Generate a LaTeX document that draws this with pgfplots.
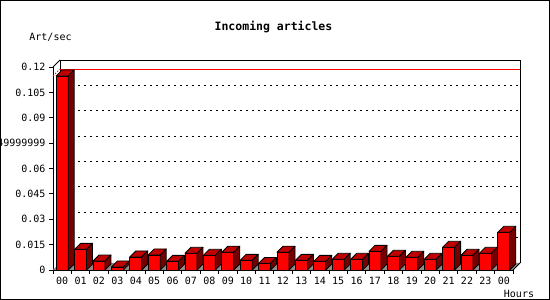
\documentclass[border=0pt]{standalone}
\usepackage{pgfplots}
\usepackage{pgfplotstable}
\pgfplotsset{compat=1.18}
\usepackage{fontspec}
\setmonofont{DejaVu Sans Mono}
\definecolor{barfront}{RGB}{255,0,0}
\definecolor{bartop}{RGB}{192,0,0}
\definecolor{barside}{RGB}{118,0,0}
\definecolor{floorgray}{RGB}{140,140,140}

\pgfplotstableread{
x v
0 0.1147
1 0.0122
2 0.0053
3 0.0018
4 0.0077
5 0.0089
6 0.0051
7 0.0099
8 0.0087
9 0.0105
10 0.0057
11 0.0039
12 0.0105
13 0.0057
14 0.0051
15 0.0063
16 0.0063
17 0.0110
18 0.0081
19 0.0075
20 0.0063
21 0.0134
22 0.0087
23 0.0099
24 0.0223
}\datatable

\pgfdeclareplotmark{bar3d}{%
  \pgfmathsetmacro\barh{\rawv*1691.667}%
  \filldraw[fill=bartop,draw=black,line width=0.8pt,line join=round]
    (-6pt,0pt) -- (6pt,0pt) -- (12pt,6pt) -- (0pt,6pt) -- cycle;
  \filldraw[fill=barside,draw=black,line width=0.8pt,line join=round]
    (6pt,0pt) -- (12pt,6pt) -- (12pt,{6pt-\barh pt}) -- (6pt,{-\barh pt}) -- cycle;
}

\begin{document}
\begin{tikzpicture}
\useasboundingbox (0pt,0pt) rectangle (550pt,300pt);
\clip (0pt,0pt) rectangle (550pt,300pt);
\fill[white] (0pt,0pt) rectangle (550pt,300pt);
\begin{axis}[
  at={(53pt,30pt)}, anchor=south west,
  scale only axis, width=460pt, height=203pt,
  xmin=-0.5, xmax=24.5, ymin=0, ymax=0.12,
  enlargelimits=false,
  axis x line*=bottom, axis y line*=left,
  axis line style={-, line width=0.8pt},
  clip=false,
  tick align=outside,
  major tick length=4pt, minor tick length=4pt,
  every tick/.style={black, line width=0.8pt},
  xtick={0,...,24},
  xticklabels={00,01,02,03,04,05,06,07,08,09,10,11,12,13,14,15,16,17,18,19,20,21,22,23,00},
  minor xtick={-0.5,0.5,...,24.5},
  every major x tick/.append style={draw=none},
  ytick={0,0.015,0.03,0.045,0.06,0.075,0.09,0.105,0.12},
  yticklabels={0,0.015,0.03,0.045,0.06,0.0749999999,0.09,0.105,0.12},
  ticklabel style={font=\ttfamily\fontsize{10pt}{12pt}\selectfont},
]
% floor
\fill[floorgray] (axis cs:-0.5,0) -- (axis cs:24.5,0) -- ([shift={(7pt,7pt)}]axis cs:24.5,0) -- ([shift={(7pt,7pt)}]axis cs:-0.5,0) -- cycle;
% back plane
\draw[line width=0.8pt] ([shift={(7pt,7pt)}]axis cs:-0.5,0) -- ([shift={(7pt,7pt)}]axis cs:-0.5,0.12) -- ([shift={(7pt,7pt)}]axis cs:24.5,0.12) -- ([shift={(7pt,7pt)}]axis cs:24.5,0);
\draw[line width=0.8pt] (axis cs:-0.5,0.12) -- ([shift={(7pt,7pt)}]axis cs:-0.5,0.12);
\draw[line width=0.8pt] (axis cs:24.5,0) -- ([shift={(7pt,7pt)}]axis cs:24.5,0);
% grid
\pgfplotsinvokeforeach{0.015,0.03,0.045,0.06,0.075,0.09,0.105}{
  \draw[line width=0.8pt, dash pattern=on 2pt off 4pt] ([shift={(7pt,7pt)}]axis cs:-0.5,#1) -- ([shift={(7pt,7pt)}]axis cs:24.5,#1);
}
% max line
\draw[red, line width=0.8pt] ([shift={(7pt,7pt)}]axis cs:-0.5,0.1147) -- ([shift={(7pt,7pt)}]axis cs:24.5,0.1147);
\draw[red, line width=0.8pt, dash pattern=on 1.5pt off 1.5pt] (axis cs:-0.5,0.1147) -- ([shift={(7pt,7pt)}]axis cs:-0.5,0.1147);
% bars
\addplot[ybar, bar width=12pt, fill=barfront, draw=black, line width=0.8pt] table[x=x, y=v] {\datatable};
\addplot[only marks, mark=bar3d, visualization depends on={rawy \as \rawv}] table[x=x, y=v] {\datatable};
\end{axis}
\node[font=\ttfamily\bfseries\fontsize{11.5pt}{13pt}\selectfont] at (273.5pt,273.3pt) {Incoming articles};
\node[font=\ttfamily\fontsize{10pt}{12pt}\selectfont] at (50.5pt,262.7pt) {Art/sec};
\node[font=\ttfamily\fontsize{10pt}{12pt}\selectfont] at (519pt,6.5pt) {Hours};
\draw[line width=1pt] (0.5pt,0.5pt) rectangle (549.5pt,299.5pt);
\end{tikzpicture}
\end{document}
